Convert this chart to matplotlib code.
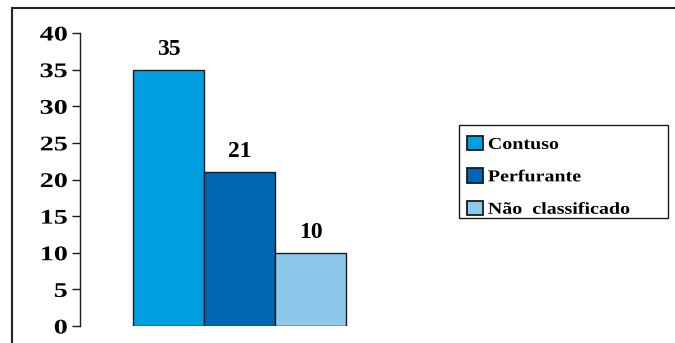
import matplotlib
matplotlib.use('Agg')
from matplotlib import pyplot as plt
from matplotlib.patches import Patch, Rectangle
from matplotlib.patheffects import AbstractPathEffect
from matplotlib.transforms import Affine2D
import numpy as np

# Counts per type of injury
categorias = ['Contuso', 'Perfurante', 'Não  classificado']
valores = [35, 21, 10]
cores = ['#009FDF', '#0066B3', '#8CC8EC']
yticks = [0, 5, 10, 15, 20, 25, 30, 35, 40]

plt.rcParams['font.family'] = ['Liberation Serif', 'DejaVu Serif']
plt.rcParams['font.weight'] = 'bold'


class Stretch(AbstractPathEffect):
    """Widen text horizontally, keeping its left (or right) edge fixed."""
    def __init__(self, sx, keep='left'):
        super().__init__()
        self.sx = sx
        self.keep = keep

    def draw_path(self, renderer, gc, tpath, affine, rgbFace=None):
        x0 = tpath.get_extents().x1 if self.keep == 'right' else 0
        t = Affine2D().translate(-x0, 0).scale(self.sx, 1).translate(x0, 0)
        renderer.draw_path(gc, tpath, t + affine, rgbFace)


W, H = 675, 343
fig = plt.figure(figsize=(W / 100, H / 100), dpi=100)

# plot area placed in pixels
left, right, bottom, top = 80, 400, 326, 33
ax = fig.add_axes([left / W, 1 - bottom / H, (right - left) / W, (bottom - top) / H])

x = np.arange(len(valores))
ax.bar(x, valores, width=1.0, color=cores, edgecolor='#1a1a1a', linewidth=1.0)

for xi, v in zip(x, valores):
    ax.annotate(str(v), (xi, v), xytext=(0, 7), textcoords='offset points',
                ha='center', va='bottom', fontsize=17, fontweight='bold')

ax.set_ylim(0, 40)
ax.set_xlim(-0.5 - (133 - left) / 71, -0.5 + (right - 133) / 71)
ax.set_yticks(yticks)
ax.set_xticks([])
ax.tick_params(axis='y', length=5.5, width=1.0, pad=3.5, labelsize=15, color='#1a1a1a')
for lab in ax.get_yticklabels():
    lab.set_fontweight('bold')
    lab.set_path_effects([Stretch(1.35, keep='right')])
for s in ['top', 'right', 'bottom']:
    ax.spines[s].set_visible(False)
ax.spines['left'].set_linewidth(1.0)
ax.spines['left'].set_color('#1a1a1a')
ax.patch.set_alpha(0)

# outer frame, open to the right and bottom
fig.patches.append(Rectangle((12 / W, -0.2), 1.2, 1.2 - 8 / H,
                             transform=fig.transFigure, fill=False,
                             edgecolor='#222222', linewidth=1.5, clip_on=False))

# legend box
fig.patches.append(Rectangle((459 / W, 1 - 218 / H), (668 - 459) / W, (218 - 125) / H,
                             transform=fig.transFigure, fill=False,
                             edgecolor='#1a1a1a', linewidth=1.0))

handles = [Patch(facecolor=c, edgecolor='#1a1a1a', linewidth=1.3) for c in cores]
leg = fig.legend(handles, categorias, loc='upper left',
                 bbox_to_anchor=(467 / W, 1 - 136 / H),
                 frameon=False,
                 prop={'family': 'Liberation Serif', 'weight': 'bold', 'size': 12},
                 handlelength=0.95, handleheight=0.95, handletextpad=0.3,
                 labelspacing=0.93, borderpad=0, borderaxespad=0)
for t in leg.get_texts():
    t.set_path_effects([Stretch(1.2)])

fig.savefig('out.png', dpi=100)
